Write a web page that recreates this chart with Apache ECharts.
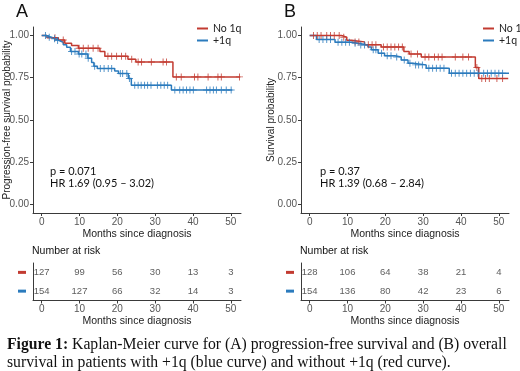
<!DOCTYPE html>
<html>
<head>
<meta charset="utf-8">
<script src="https://cdn.jsdelivr.net/npm/echarts@6/dist/echarts.min.js"></script>
<style>
  html, body { margin: 0; padding: 0; background: #fff; }
  #chart { width: 520px; height: 371px; }
</style>
</head>
<body>
<div id="chart"></div>
<script>
// tick values shared by all x axes
var monthTicks = [0, 10, 20, 30, 40, 50]
var probTicks = [0, 0.25, 0.5, 0.75, 1]

// (A) progression-free survival, event times and survival after each step
var pfsNoT = [0, 1.4, 4.4, 6.1, 7.9, 9.7, 15.4, 16.7, 22.8, 24.9, 34.7, 52.5]
var pfsNoS = [1, 0.987, 0.973, 0.954, 0.94, 0.924, 0.905, 0.877, 0.86, 0.843, 0.755, 0.755]
var pfsNoCens = [3.5, 5.7, 9.9, 11, 12.3, 13.6, 14.9, 17.5, 18.5, 19.8, 21.1, 22.2, 23.8, 25.5, 26.4, 29, 32.1, 33, 35.6, 36.9, 40.4, 41.3, 44, 46.6, 47.5, 52.3]
var pfsGainT = [0, 1.2, 2.5, 3.5, 4.6, 5.7, 6.6, 7.6, 9.7, 12.2, 13.2, 13.8, 14.7, 19.3, 20.3, 22.9, 23.7, 34.3, 50.4]
var pfsGainS = [1, 0.99, 0.98, 0.97, 0.96, 0.945, 0.93, 0.905, 0.89, 0.865, 0.84, 0.818, 0.805, 0.79, 0.775, 0.745, 0.706, 0.678, 0.678]
var pfsGainCens = [1, 2, 3.4, 4.2, 7.9, 8.8, 9.9, 10.6, 11.7, 12.3, 14, 15.5, 16.5, 17.6, 18.5, 20.8, 21.4, 22.5, 23.2, 24.6, 25.5, 26.3, 27.2, 28, 28.9, 30.6, 31.5, 32.4, 33.3, 35.2, 36.5, 37.4, 38.3, 39.2, 40.1, 43.6, 44.5, 45.4, 46.2, 47.5, 48.8, 50.1]

// (B) overall survival
var osNoT = [0, 8.4, 9.8, 11.1, 14.5, 18.9, 24.9, 26.3, 29.5, 43.8, 44.7, 52.5]
var osNoS = [1, 0.99, 0.972, 0.962, 0.945, 0.932, 0.905, 0.89, 0.872, 0.81, 0.746, 0.746]
var osNoCens = [1, 2, 3, 4.5, 5.5, 6.5, 7.8, 9, 12, 13, 15.5, 16.5, 17.5, 19.5, 20.5, 21.5, 22.5, 23.5, 24.5, 26.8, 28.5, 30.5, 31.5, 33, 34, 35, 38.5, 40.5, 42, 44.2, 45.5, 46.5, 47.5, 49.5, 51]
var osGainT = [0, 1.8, 6.7, 11.1, 12.8, 15.4, 16.3, 18.1, 19.8, 22.5, 24.2, 26, 27.3, 30.8, 36.9, 52.7]
var osGainS = [1, 0.976, 0.96, 0.954, 0.944, 0.932, 0.915, 0.895, 0.88, 0.872, 0.855, 0.836, 0.826, 0.806, 0.776, 0.776]
var osGainCens = [2.5, 3.5, 4.5, 5.5, 7.5, 8.5, 9.5, 10.5, 12, 13.5, 14.5, 16.8, 17.5, 19, 20.5, 21.5, 23, 25, 26.5, 28, 28.8, 29.8, 31.5, 32.5, 33.5, 34.5, 35.5, 37.5, 38.5, 39.5, 40.5, 41.5, 42.5, 43.5, 44.5, 46, 47, 48, 49, 50, 51]

// number at risk
var riskGroups = ['No 1q', '+1q']
var pfsRiskNo = [127, 99, 56, 30, 13, 3]
var pfsRiskGain = [154, 127, 66, 32, 14, 3]
var osRiskNo = [128, 106, 64, 38, 21, 4]
var osRiskGain = [154, 136, 80, 42, 23, 6]

var red = '#c23b31'
var blue = '#2b7bbd'
var axisCol = '#3a3a3a'
var tickCol = '#555'
var plusPath = 'path://M4.3,0H5.7V4.3H10V5.7H5.7V10H4.3V5.7H0V4.3H4.3Z'

function stepPoints(t, s) {
  return t.map(function (v, i) { return [v, s[i]] })
}
function survAt(t, s, x) {
  var val = s[0]
  for (var i = 0; i < t.length; i++) {
    if (t[i] <= x) val = s[i]
  }
  return val
}
function censPoints(t, s, c) {
  return c.map(function (x) { return [x, survAt(t, s, x)] })
}
function riskPoints(a, b) {
  var out = []
  monthTicks.forEach(function (m, i) {
    out.push([m, riskGroups[0], a[i]])
    out.push([m, riskGroups[1], b[i]])
  })
  return out
}

var chart = echarts.init(document.getElementById('chart'))

function xAxisCfg(gridIndex) {
  return {
    gridIndex: gridIndex,
    type: 'value',
    min: -2.3,
    max: 52.7,
    name: 'Months since diagnosis',
    nameLocation: 'middle',
    nameGap: 15.5,
    nameMoveOverlap: false,
    nameTextStyle: { color: '#222', fontSize: 10.5, fontFamily: 'Liberation Sans' },
    splitLine: { show: false },
    axisLine: { show: true, onZero: false, lineStyle: { color: axisCol, width: 1 } },
    axisTick: { show: true, length: 3, customValues: monthTicks, lineStyle: { color: axisCol } },
    axisLabel: { customValues: monthTicks, margin: 4, color: tickCol, fontSize: 10, fontFamily: 'Liberation Sans' },
  }
}
function yAxisCfg(gridIndex, name, gap) {
  return {
    gridIndex: gridIndex,
    type: 'value',
    min: -0.05,
    max: 1.05,
    name: name,
    nameLocation: 'middle',
    nameGap: gap,
    nameMoveOverlap: false,
    nameTextStyle: { color: '#222', fontSize: 10, fontFamily: 'Liberation Sans' },
    splitLine: { show: false },
    axisLine: { show: true, onZero: false, lineStyle: { color: axisCol, width: 1 } },
    axisTick: { show: true, length: 3, customValues: probTicks, lineStyle: { color: axisCol } },
    axisLabel: {
      customValues: probTicks, margin: 4, color: tickCol, fontSize: 10, fontFamily: 'Liberation Sans',
      formatter: function (v) { return v.toFixed(2) },
    },
  }
}
function riskYAxis(gridIndex) {
  return {
    gridIndex: gridIndex,
    type: 'category',
    data: riskGroups,
    inverse: true,
    axisLine: { show: true, onZero: false, lineStyle: { color: axisCol, width: 1 } },
    axisTick: { show: false },
    axisLabel: {
      margin: 7,
      formatter: function (v) { return v === 'No 1q' ? '{r|}' : '{b|}' },
      rich: {
        r: { width: 8, height: 3, backgroundColor: red },
        b: { width: 8, height: 3, backgroundColor: blue },
      },
    },
  }
}
function kmLine(name, color, xi, t, s) {
  return {
    name: name, type: 'line', step: 'end', xAxisIndex: xi, yAxisIndex: xi,
    data: stepPoints(t, s), showSymbol: false, color: color,
    lineStyle: { color: color, width: 1.5 }, silent: true, z: 2,
  }
}
function kmCens(name, color, xi, t, s, c) {
  return {
    name: name, type: 'scatter', xAxisIndex: xi, yAxisIndex: xi,
    data: censPoints(t, s, c), symbol: plusPath, symbolSize: 7,
    itemStyle: { color: color }, silent: true, z: 3,
  }
}
function riskSeries(xi, a, b) {
  return {
    type: 'scatter', xAxisIndex: xi, yAxisIndex: xi, symbolSize: 0,
    data: riskPoints(a, b), silent: true,
    label: {
      show: true, position: 'inside', color: '#333', fontSize: 9.5, fontFamily: 'Liberation Sans',
      formatter: function (p) { return String(p.value[2]) },
    },
  }
}
function legendCfg(left) {
  return {
    orient: 'vertical', left: left, top: 18, itemGap: 1,
    icon: 'rect', itemWidth: 11, itemHeight: 2,
    data: riskGroups, selectedMode: false,
    textStyle: { fontSize: 10.5, fontFamily: 'Lato', color: '#222' },
  }
}
function txt(x, y, text, size, font) {
  return {
    type: 'text', left: x, top: y,
    style: { text: text, fontSize: size, fontFamily: font || 'Lato', fill: '#111' },
  }
}

var gridBase = { outerBoundsMode: 'none', containLabel: false }
var option = {
  animation: false,
  grid: [
    Object.assign({ left: 33, top: 27, width: 208, height: 186 }, gridBase),
    Object.assign({ left: 301, top: 27, width: 208, height: 186 }, gridBase),
    Object.assign({ left: 33, top: 263, width: 208, height: 37.5 }, gridBase),
    Object.assign({ left: 301, top: 263, width: 208, height: 37.5 }, gridBase),
  ],
  xAxis: [xAxisCfg(0), xAxisCfg(1), xAxisCfg(2), xAxisCfg(3)],
  yAxis: [
    yAxisCfg(0, 'Progression-free survival probability', 20.5),
    yAxisCfg(1, 'Survival probability', 24.5),
    riskYAxis(2),
    riskYAxis(3),
  ],
  legend: [legendCfg(192), legendCfg(478)],
  series: [
    kmLine('No 1q', red, 0, pfsNoT, pfsNoS),
    kmLine('+1q', blue, 0, pfsGainT, pfsGainS),
    kmCens('No 1q', red, 0, pfsNoT, pfsNoS, pfsNoCens),
    kmCens('+1q', blue, 0, pfsGainT, pfsGainS, pfsGainCens),
    kmLine('No 1q', red, 1, osNoT, osNoS),
    kmLine('+1q', blue, 1, osGainT, osGainS),
    kmCens('No 1q', red, 1, osNoT, osNoS, osNoCens),
    kmCens('+1q', blue, 1, osGainT, osGainS, osGainCens),
    riskSeries(2, pfsRiskNo, pfsRiskGain),
    riskSeries(3, osRiskNo, osRiskGain),
  ],
  graphic: [
    txt(16, 3, 'A', 18, 'Liberation Sans'),
    txt(284, 3, 'B', 18, 'Liberation Sans'),
    txt(50, 166, 'p = 0.071', 11),
    txt(50, 178, 'HR 1.69 (0.95 \u2013 3.02)', 11),
    txt(320, 166, 'p = 0.37', 11),
    txt(320, 178, 'HR 1.39 (0.68 \u2013 2.84)', 11),
    txt(32, 246, 'Number at risk', 10.5, 'Liberation Sans'),
    txt(300, 246, 'Number at risk', 10.5, 'Liberation Sans'),
    {
      type: 'text', left: 7, top: 336,
      style: {
        text: '{b|Figure 1:} Kaplan-Meier curve for (A) progression-free survival and (B) overall\nsurvival in patients with +1q (blue curve) and without +1q (red curve).',
        fontSize: 15.7, fontFamily: 'Liberation Serif', fill: '#111', lineHeight: 18,
        rich: { b: { fontWeight: 'bold', fontSize: 15.7, fontFamily: 'Liberation Serif', fill: '#111' } },
      },
    },
  ],
}
chart.setOption(option)
</script>
</body>
</html>
